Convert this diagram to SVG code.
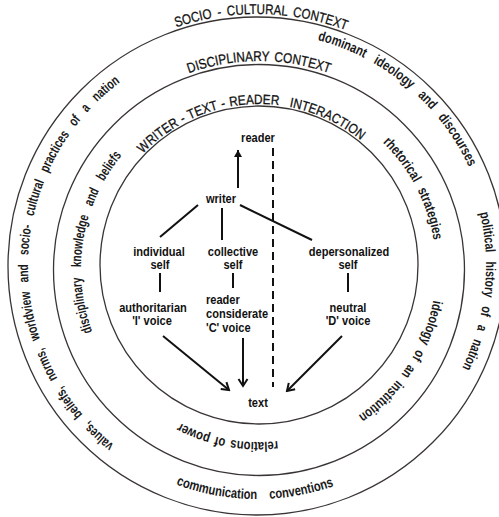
<svg xmlns="http://www.w3.org/2000/svg" width="499" height="517" viewBox="0 0 499 517">
<style>
.ring{fill:none;stroke:#3a3535;stroke-width:1.3}
.cap{font-family:"Liberation Sans",Arial,sans-serif;font-size:14px;fill:#111;stroke:#111;stroke-width:0.3}
.arc{font-family:"Liberation Sans",Arial,sans-serif;font-size:14px;font-weight:bold;fill:#1a1a1a}
.node{font-family:"Liberation Sans",Arial,sans-serif;font-size:13.5px;font-weight:bold;fill:#111;text-anchor:middle}
.nodel{font-family:"Liberation Sans",Arial,sans-serif;font-size:13.5px;font-weight:bold;fill:#111}
.conn{fill:none;stroke:#111;stroke-width:2}
.dash{fill:none;stroke:#111;stroke-width:2;stroke-dasharray:8 5}
</style>
<defs>
<marker id="chev" viewBox="-9 -6 11 12" refX="0" refY="0" markerWidth="11" markerHeight="12" markerUnits="userSpaceOnUse" orient="auto">
<path d="M-7,-4.5 L0,0 L-7,4.5" fill="none" stroke="#111" stroke-width="2"/>
</marker>
<marker id="tri" viewBox="-8 -5 9 10" refX="0" refY="0" markerWidth="9" markerHeight="10" markerUnits="userSpaceOnUse" orient="auto">
<path d="M-7,-4 L0,0 L-7,4 Z" fill="#111"/>
</marker>
<path id="pSocio" d="M95.0,73.0 A252,252 0 0 1 425.6,78.7"/>
<path id="pDisc" d="M125.3,109.7 A208,208 0 0 1 392.7,109.7"/>
<path id="pWtr" d="M119.6,184.5 A161,161 0 0 1 387.6,168.1"/>
<path id="pDom" d="M257,32 A234,234 0 0 1 487.4,225.4"/>
<path id="pPol" d="M448.0,139.6 A229,229 0 0 1 414.6,432.1"/>
<path id="pVal" d="M160.2,473.5 A229,229 0 0 1 167.5,55.2"/>
<path id="pCom" d="M107.2,444.5 A233,233 0 0 0 403.6,447.1"/>
<path id="pDkb" d="M105.6,359.3 A178,178 0 0 1 143.4,133.6"/>
<path id="pRhe" d="M354.1,119.7 A177,177 0 0 1 435.8,276.7"/>
<path id="pIdi" d="M435.8,278.3 A177,177 0 0 1 339.4,426.7"/>
<path id="pRel" d="M318.2,431.6 A173,173 0 0 1 145.5,399.6"/>
</defs>

<g id="rings">
<circle class="ring" cx="257" cy="266" r="249"/>
<circle class="ring" cx="259" cy="270" r="205.5"/>
<circle class="ring" cx="259" cy="265" r="159"/>
</g>

<g id="socio-cultural-context">
<text class="cap" text-anchor="middle" style="word-spacing:3px"><textPath href="#pSocio" startOffset="50%" textLength="173" lengthAdjust="spacingAndGlyphs">SOCIO - CULTURAL  CONTEXT</textPath></text>
<text class="arc" text-anchor="middle" style="word-spacing:8.7px"><textPath href="#pDom" startOffset="50%" textLength="204" lengthAdjust="spacingAndGlyphs">dominant ideology and discourses</textPath></text>
<text class="arc" text-anchor="middle" style="word-spacing:8px"><textPath href="#pPol" startOffset="50%" textLength="159" lengthAdjust="spacingAndGlyphs">political history of a nation</textPath></text>
<text class="arc" text-anchor="middle" style="word-spacing:8.5px"><textPath href="#pVal" startOffset="50%" textLength="418" lengthAdjust="spacingAndGlyphs">values, beliefs, norms, worldview and socio- cultural practices of a nation</textPath></text>
<text class="arc" text-anchor="middle" style="word-spacing:11.5px"><textPath href="#pCom" startOffset="50%" textLength="161" lengthAdjust="spacingAndGlyphs">communication conventions</textPath></text>
</g>

<g id="disciplinary-context">
<text class="cap" text-anchor="middle" style="word-spacing:2px"><textPath href="#pDisc" startOffset="50%" textLength="143" lengthAdjust="spacingAndGlyphs">DISCIPLINARY CONTEXT</textPath></text>
<text class="arc" text-anchor="middle" style="word-spacing:10px"><textPath href="#pDkb" startOffset="50%" textLength="187" lengthAdjust="spacingAndGlyphs">disciplinary knowledge and beliefs</textPath></text>
<text class="arc" text-anchor="middle" style="word-spacing:6px"><textPath href="#pRhe" startOffset="50%" textLength="112" lengthAdjust="spacingAndGlyphs">rhetorical strategies</textPath></text>
<text class="arc" text-anchor="middle" style="word-spacing:5px"><textPath href="#pIdi" startOffset="50%" textLength="141" lengthAdjust="spacingAndGlyphs">ideology of an institution</textPath></text>
<text class="arc" text-anchor="middle" style="word-spacing:2.3px"><textPath href="#pRel" startOffset="50%" textLength="101" lengthAdjust="spacingAndGlyphs">relations of power</textPath></text>
</g>

<g id="interaction">
<text class="cap" text-anchor="middle" style="font-size:13.5px;word-spacing:1px"><textPath href="#pWtr" startOffset="50%" textLength="240" lengthAdjust="spacingAndGlyphs">WRITER - TEXT - READER<tspan dx="12">INTERACTION</tspan></textPath></text>
</g>

<g id="connectors">
<line class="conn" x1="238" y1="188" x2="238" y2="150" marker-end="url(#tri)"/>
<line class="dash" x1="273" y1="148" x2="273" y2="387"/>
<line class="conn" x1="198" y1="205" x2="160" y2="237"/>
<line class="conn" x1="222" y1="208" x2="222" y2="240"/>
<line class="conn" x1="240" y1="205" x2="312" y2="240"/>
<line class="conn" x1="160" y1="273" x2="160" y2="292"/>
<line class="conn" x1="233" y1="273" x2="233" y2="288"/>
<line class="conn" x1="348" y1="273" x2="348" y2="292"/>
<line class="conn" x1="163" y1="336" x2="229" y2="390" marker-end="url(#chev)"/>
<line class="conn" x1="243" y1="338" x2="243" y2="386" marker-end="url(#chev)"/>
<line class="conn" x1="342" y1="336" x2="287" y2="391" marker-end="url(#chev)"/>
</g>

<g id="reader"><text class="node" transform="translate(258,142) scale(0.82,1)">reader</text></g>
<g id="writer"><text class="node" transform="translate(221,203) scale(0.82,1)">writer</text></g>
<g id="individual-self"><text class="node" transform="translate(159,256) scale(0.82,1)">individual</text><text class="node" transform="translate(160,269) scale(0.82,1)">self</text></g>
<g id="collective-self"><text class="node" transform="translate(233,256) scale(0.82,1)">collective</text><text class="node" transform="translate(233,269) scale(0.82,1)">self</text></g>
<g id="depersonalized-self"><text class="node" transform="translate(349,256) scale(0.82,1)">depersonalized</text><text class="node" transform="translate(348,269) scale(0.82,1)">self</text></g>
<g id="authoritarian-voice"><text class="node" transform="translate(153,312) scale(0.82,1)">authoritarian</text><text class="node" transform="translate(152,325) scale(0.82,1)">'I' voice</text></g>
<g id="reader-considerate-voice"><text class="nodel" transform="translate(206,304) scale(0.82,1)">reader</text><text class="nodel" transform="translate(206,318) scale(0.82,1)">considerate</text><text class="nodel" transform="translate(206,332) scale(0.82,1)">'C' voice</text></g>
<g id="neutral-voice"><text class="node" transform="translate(348,312) scale(0.82,1)">neutral</text><text class="node" transform="translate(348,325) scale(0.82,1)">'D' voice</text></g>
<g id="text"><text class="node" transform="translate(258,407) scale(0.82,1)">text</text></g>
</svg>
